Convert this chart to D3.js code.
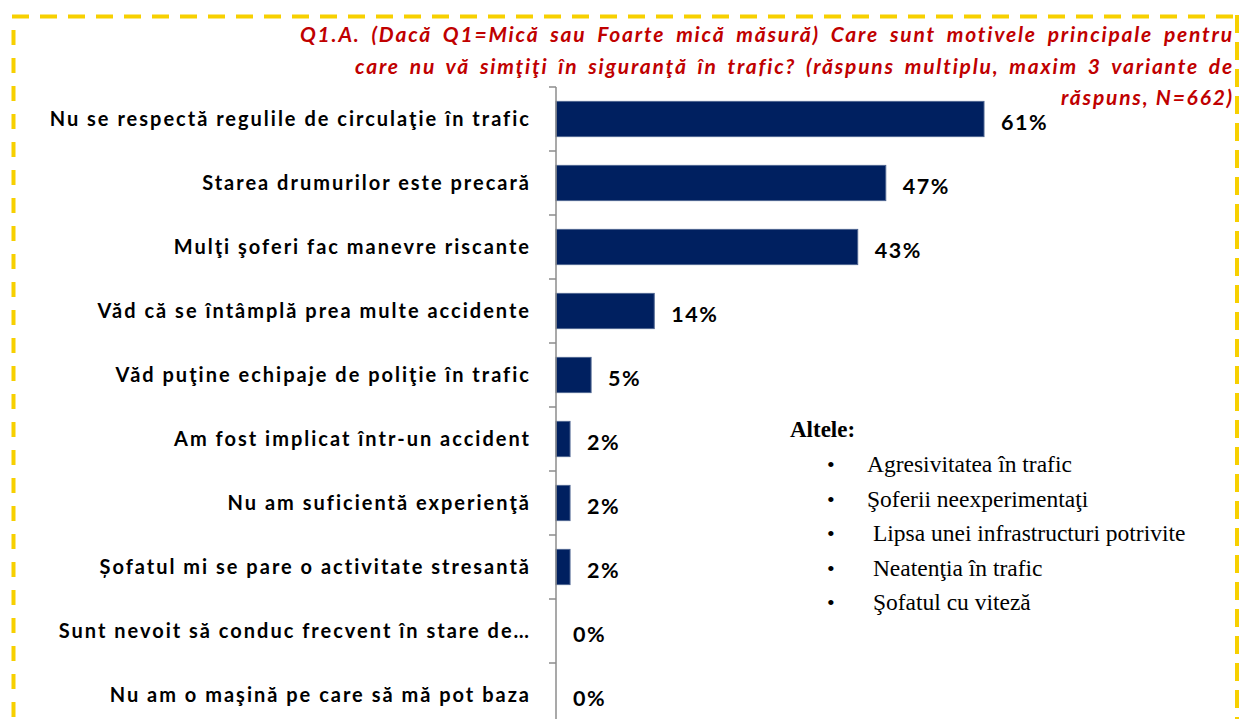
<!DOCTYPE html>
<html>
<head>
<meta charset="utf-8">
<script src="https://d3js.org/d3.v7.min.js"></script>
<style>
  body { margin: 0; background: #fff; }
</style>
</head>
<body>
<div id="chart"></div>
<script>
// categories and values (percent of respondents)
var categories = [
  "Nu se respectă regulile de circulaţie în trafic",
  "Starea drumurilor este precară",
  "Mulţi şoferi fac manevre riscante",
  "Văd că se întâmplă prea multe accidente",
  "Văd puţine echipaje de poliţie în trafic",
  "Am fost implicat într-un accident",
  "Nu am suficientă experienţă",
  "Șofatul mi se pare o activitate stresantă",
  "Sunt nevoit să conduc frecvent în stare de…",
  "Nu am o maşină pe care să mă pot baza"
];
var values = [61, 47, 43, 14, 5, 2, 2, 2, 0, 0];

var titleLines = [
  "Q1.A. (Dacă Q1=Mică sau Foarte mică măsură) Care sunt motivele principale pentru",
  "care nu vă simţiţi în siguranţă în trafic? (răspuns multiplu, maxim 3 variante de",
  "răspuns, N=662)"
];
var titleStarts = [300, 355, null]; // justified lines start here

var otherHeading = "Altele:";
var otherItems = [
  "Agresivitatea în trafic",
  "Şoferii neexperimentaţi",
  " Lipsa unei infrastructuri potrivite",
  " Neatenţia în trafic",
  " Şofatul cu viteză"
];

var W = 1240, H = 719;
var svg = d3.select("#chart").append("svg")
  .attr("width", W)
  .attr("height", H)
  .style("display", "block");

// dashed yellow frame
var gold = "#F7D000";
svg.append("line").attr("x1", 12).attr("x2", 1234).attr("y1", 16.5).attr("y2", 16.5)
  .attr("stroke", gold).attr("stroke-width", 4).attr("stroke-dasharray", "17,11");
svg.append("line").attr("x1", 13.5).attr("x2", 13.5).attr("y1", 30).attr("y2", H + 10)
  .attr("stroke", gold).attr("stroke-width", 4).attr("stroke-dasharray", "15,13");
svg.append("line").attr("x1", 1237).attr("x2", 1237).attr("y1", 15).attr("y2", H + 10)
  .attr("stroke", gold).attr("stroke-width", 4).attr("stroke-dasharray", "18,9");

var axisX = 556;
var x = d3.scaleLinear().domain([0, 61]).range([axisX, 984]);
var y = d3.scaleBand().domain(categories).range([87, 727]).paddingInner(0.45).paddingOuter(0.225);

// bars
svg.selectAll("rect.bar")
  .data(values)
  .enter().append("rect")
    .attr("class", "bar")
    .attr("x", x(0))
    .attr("y", function(d, i) { return y(categories[i]); })
    .attr("width", function(d) { return x(d) - x(0); })
    .attr("height", y.bandwidth())
    .attr("fill", "#002060")
    .attr("stroke", function(d) { return d > 0 ? "#4d6490" : "none"; })
    .attr("stroke-width", 1);

// axis line + boundary ticks
var gap = (y.step() - y.bandwidth()) / 2;
svg.append("line")
  .attr("x1", axisX).attr("x2", axisX)
  .attr("y1", y(categories[0]) - gap).attr("y2", H + 10)
  .attr("stroke", "#8c8c8c").attr("stroke-width", 1.5);
svg.selectAll("line.tick")
  .data(categories)
  .enter().append("line")
    .attr("class", "tick")
    .attr("x1", axisX - 7).attr("x2", axisX)
    .attr("y1", function(d) { return y(d) - gap; })
    .attr("y2", function(d) { return y(d) - gap; })
    .attr("stroke", "#8c8c8c").attr("stroke-width", 1.5);

// category labels
svg.selectAll("text.cat")
  .data(categories)
  .enter().append("text")
    .attr("class", "cat")
    .attr("x", 531)
    .attr("y", function(d) { return y(d) + y.bandwidth() / 2 + 7; })
    .attr("text-anchor", "end")
    .style("font-family", "Lato, 'Open Sans', sans-serif")
    .style("font-weight", "bold")
    .style("font-size", "20px")
    .style("letter-spacing", "2px")
    .style("fill", "#000")
    .text(function(d) { return d; });

// value labels
svg.selectAll("text.val")
  .data(values)
  .enter().append("text")
    .attr("class", "val")
    .attr("x", function(d) { return x(d) + 17; })
    .attr("y", function(d, i) { return y(categories[i]) + y.bandwidth() / 2 + 11; })
    .style("font-family", "Lato, 'Open Sans', sans-serif")
    .style("font-weight", "bold")
    .style("font-size", "21.5px")
    .style("letter-spacing", "1.5px")
    .style("fill", "#000")
    .text(function(d) { return d + "%"; });

// title (right aligned, first two lines justified)
var titleBase = [42, 74, 105];
titleLines.forEach(function(line, i) {
  var t = svg.append("text")
    .attr("x", 1234)
    .attr("y", titleBase[i])
    .attr("text-anchor", "end")
    .style("font-family", "Lato, 'Open Sans', sans-serif")
    .style("font-weight", "bold")
    .style("font-style", "italic")
    .style("font-size", "21px")
    .style("letter-spacing", "1.8px")
    .style("fill", "#C00000")
    .text(line);
  if (titleStarts[i] != null) {
    var natural = t.node().getComputedTextLength();
    var spaces = line.split(" ").length - 1;
    var extra = Math.max(0, (1234 - titleStarts[i] - natural) / spaces);
    t.style("word-spacing", extra + "px");
  }
});

// "Altele" note
var serif = "'Liberation Serif', 'DejaVu Serif', serif";
svg.append("text")
  .attr("x", 790).attr("y", 437)
  .style("font-family", serif)
  .style("font-weight", "bold")
  .style("font-size", "23px")
  .text(otherHeading);
svg.selectAll("text.bullet")
  .data(otherItems)
  .enter().append("text")
    .attr("class", "bullet")
    .attr("x", 827)
    .attr("y", function(d, i) { return 472 + i * 34.5; })
    .style("font-family", serif)
    .style("font-size", "22px")
    .text("•");
svg.selectAll("text.other")
  .data(otherItems)
  .enter().append("text")
    .attr("class", "other")
    .attr("x", 867)
    .attr("y", function(d, i) { return 472 + i * 34.5; })
    .style("font-family", serif)
    .style("font-size", "23.5px")
    .style("white-space", "pre")
    .text(function(d) { return d; });
</script>
</body>
</html>
